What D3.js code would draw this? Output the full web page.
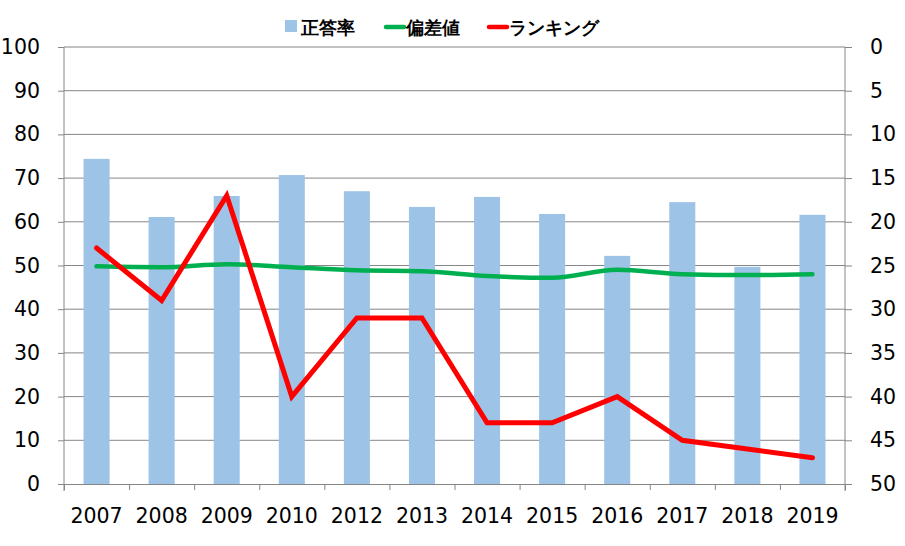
<!DOCTYPE html>
<html>
<head>
<meta charset="utf-8">
<script src="https://cdn.jsdelivr.net/npm/d3@7"></script>
<style>
  body { margin: 0; background: #fff; }
  svg text { font-family: "DejaVu Sans", Verdana, sans-serif; }
</style>
</head>
<body>
<svg width="905" height="546"></svg>
<script>
const years = ['2007','2008','2009','2010','2012','2013','2014','2015','2016','2017','2018','2019']
const seikai = [74.4, 61.1, 65.9, 70.7, 67.0, 63.4, 65.7, 61.8, 52.2, 64.5, 49.7, 61.6]
const hensachi = [49.8, 49.6, 50.3, 49.6, 48.9, 48.7, 47.6, 47.2, 49.0, 48.0, 47.8, 48.0]
const ranking = [23, 29, 17, 40, 31, 31, 43, 43, 40, 45, 46, 47]
const leftTicks = [0, 10, 20, 30, 40, 50, 60, 70, 80, 90, 100]
const rightTicks = [0, 5, 10, 15, 20, 25, 30, 35, 40, 45, 50]
const legendNames = ['正答率', '偏差値', 'ランキング']

const svg = d3.select('svg')
const plotLeft = 64, plotRight = 845, plotTop = 47, plotBottom = 484
const gray = '#868686'

const x = d3.scaleBand().domain(years).range([plotLeft, plotRight])
    .paddingInner(0.6).paddingOuter(0.3)
const xEdge = d3.scaleLinear().domain([0, years.length]).range([plotLeft, plotRight])
const yL = d3.scaleLinear().domain([0, 100]).range([plotBottom, plotTop])
const yR = d3.scaleLinear().domain([0, 50]).range([plotTop, plotBottom])
const cx = d => x(d) + x.bandwidth() / 2

// gridlines
svg.append('g').selectAll('line').data(leftTicks.slice(1))
    .enter().append('line')
        .attr('x1', plotLeft).attr('x2', plotRight)
        .attr('y1', d => yL(d)).attr('y2', d => yL(d))
        .attr('stroke', gray).attr('stroke-width', 1)

// bars
svg.append('g').selectAll('rect').data(seikai)
    .enter().append('rect')
        .attr('x', (d, i) => x(years[i]))
        .attr('y', d => yL(d))
        .attr('width', x.bandwidth())
        .attr('height', d => plotBottom - yL(d))
        .attr('fill', '#9DC3E6')

const styleAxis = g => {
    g.selectAll('.domain').attr('stroke', gray)
    g.selectAll('.tick line').attr('stroke', gray)
    g.selectAll('text').attr('font-size', 20.5).attr('fill', '#000')
        .attr('font-family', '"DejaVu Sans", Verdana, sans-serif')
}

svg.append('g').attr('transform', `translate(${plotLeft},0)`)
    .call(d3.axisLeft(yL).tickValues(leftTicks).tickSize(6).tickSizeOuter(0).tickPadding(18))
    .call(styleAxis)
    .call(g => g.select('.domain').attr('d', `M0,${plotTop}V${plotBottom + 7}`))

svg.append('g').attr('transform', `translate(${plotRight},0)`)
    .call(d3.axisRight(yR).tickValues(rightTicks).tickSize(7).tickSizeOuter(0).tickPadding(18))
    .call(styleAxis)
    .call(g => g.select('.domain').attr('d', `M0,${plotTop}V${plotBottom + 7}`))

// bottom axis: ticks between categories, labels at centres
svg.append('g').attr('transform', `translate(0,${plotBottom})`)
    .call(d3.axisBottom(xEdge).ticks(years.length).tickFormat('').tickSize(6).tickSizeOuter(0))
    .call(styleAxis)
svg.append('g').attr('transform', `translate(0,${plotBottom})`)
    .call(d3.axisBottom(x).tickSize(0).tickPadding(24))
    .call(styleAxis)
    .call(g => g.select('.domain').remove())

// lines
svg.append('path').datum(hensachi)
    .attr('d', d3.line().x((d, i) => cx(years[i])).y(d => yL(d)).curve(d3.curveMonotoneX))
    .attr('fill', 'none').attr('stroke', '#00B050').attr('stroke-width', 4.5)
    .attr('stroke-linecap', 'round')

svg.append('path').datum(ranking)
    .attr('d', d3.line().x((d, i) => cx(years[i])).y(d => yR(d)))
    .attr('fill', 'none').attr('stroke', '#FF0000').attr('stroke-width', 5)
    .attr('stroke-linecap', 'round').attr('stroke-linejoin', 'miter')

// legend
const legend = svg.append('g').attr('font-family', '"Noto Sans CJK JP", sans-serif')
    .attr('font-weight', 'bold').attr('font-size', 18)
const lx = [285, 386, 489]
legend.append('rect').attr('x', lx[0]).attr('y', 20).attr('width', 12).attr('height', 12).attr('fill', '#9DC3E6')
legend.append('line').attr('x1', lx[1]).attr('x2', lx[1] + 18).attr('y1', 27).attr('y2', 27)
    .attr('stroke', '#00B050').attr('stroke-width', 4.5).attr('stroke-linecap', 'round')
legend.append('line').attr('x1', lx[2]).attr('x2', lx[2] + 18).attr('y1', 27).attr('y2', 27)
    .attr('stroke', '#FF0000').attr('stroke-width', 4.5).attr('stroke-linecap', 'round')
legend.selectAll('text').data(legendNames)
    .enter().append('text')
        .attr('x', (d, i) => lx[i] + (i === 0 ? 16 : 20))
        .attr('y', 34)
        .text(d => d)
</script>
</body>
</html>
